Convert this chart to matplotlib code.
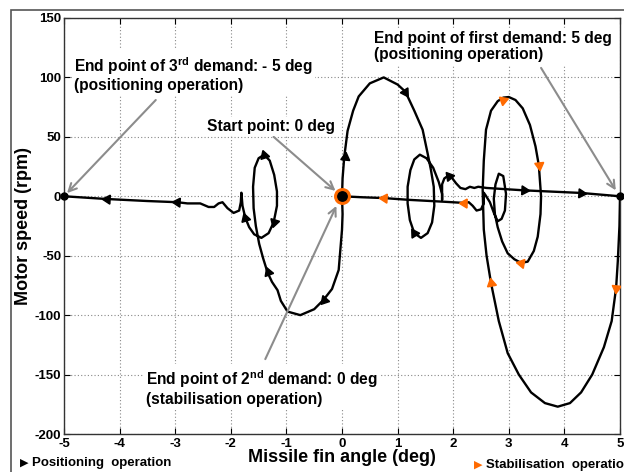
import numpy as np
import matplotlib.pyplot as plt
from matplotlib.patches import Rectangle

plt.rcParams['font.family'] = ['Liberation Sans', 'DejaVu Sans']
plt.rcParams['font.weight'] = 'bold'
plt.rcParams['axes.unicode_minus'] = False
plt.rcParams['mathtext.fontset'] = 'custom'
plt.rcParams['mathtext.rm'] = 'Liberation Sans:bold'
plt.rcParams['mathtext.bf'] = 'Liberation Sans:bold'

ORANGE = '#FF6A00'

# ---------------------------------------------------------------
# Phase trajectories (angle deg, speed rpm)
# ---------------------------------------------------------------
# 1st demand: positioning 0 -> 5 deg
pos1_x = [0, 0.01, 0.04, 0.1, 0.2, 0.3, 0.5, 0.75, 1.0, 1.14, 1.3, 1.45, 1.54,
          1.6, 1.65, 1.66, 1.62, 1.54, 1.42, 1.3, 1.22, 1.18, 1.18, 1.23, 1.3,
          1.4, 1.52, 1.64, 1.74, 1.8, 1.8, 1.8, 1.84, 1.9, 1.97, 2.05, 2.13,
          2.22, 2.3, 2.38, 2.45, 2.6, 3.27, 4.3, 5.0]
pos1_y = [0, 15, 33, 55, 72, 84, 95, 100, 94, 88, 72, 56, 36,
          22, 8, -8, -22, -31, -35, -31, -20, -6, 8, 22, 31,
          35, 32, 24, 12, 2, -3, 10, 15, 17, 16, 11, 7,
          6, 8, 7, 8, 7, 5, 2.8, 0]
pos1_arrows = [(0.06, 33), (1.14, 88), (1.3, -31), (1.93, 17), (3.27, 5), (4.3, 2.8)]

# 2nd demand: stabilisation 5 -> 0 deg
stab_x = [5.0, 4.99, 4.96, 4.93, 4.85, 4.71, 4.5, 4.3, 4.1, 3.88, 3.65, 3.4,
          3.18, 2.98, 2.82, 2.68, 2.6, 2.55, 2.53, 2.55, 2.59, 2.68, 2.8, 2.9,
          3.0, 3.12, 3.25, 3.38, 3.48, 3.54, 3.58, 3.57, 3.52, 3.45, 3.34, 3.22,
          3.1, 2.98, 2.88, 2.8, 2.75, 2.73, 2.76, 2.82, 2.9, 2.95, 2.93, 2.87,
          2.8, 2.74, 2.66, 2.58, 2.55, 2.55, 2.5, 2.42, 2.35, 2.28, 2.2, 1.8,
          1.2, 0.75, 0.35, 0]
stab_y = [0, -25, -55, -77, -105, -127, -150, -165, -174, -177, -174, -165,
          -150, -132, -105, -73, -50, -28, 5, 30, 56, 72, 80, 83,
          83.5, 81, 74, 60, 42, 26, 0, -15, -34, -46, -55, -56,
          -53, -48, -38, -26, -15, -2, 10, 19, 17, 2, -12, -19,
          -21, -15, -5, 1, 3, -6, -11, -12, -8, -5, -5.6, -4.5,
          -3, -1.5, -0.8, 0]
stab_arrows = [(4.93, -77), (2.68, -73), (2.9, 81), (3.54, 26), (3.22, -56),
               (2.2, -5.6), (0.75, -1.4)]

# 3rd demand: positioning 0 -> -5 deg
pos3_x = [0, 0.01, 0.0, -0.06, -0.18, -0.33, -0.5, -0.75, -0.98, -1.1, -1.16,
          -1.26, -1.34, -1.42, -1.49, -1.55, -1.59, -1.6, -1.57, -1.5, -1.4,
          -1.3, -1.22, -1.17, -1.17, -1.23, -1.32, -1.45, -1.58, -1.67, -1.74,
          -1.79, -1.81, -1.82, -1.85, -1.95, -2.06, -2.15, -2.22, -2.3, -2.4,
          -2.55, -2.78, -2.96, -3.5, -4.23, -5.0]
pos3_y = [0, -15, -28, -62, -78, -87, -95, -100, -97, -88, -79,
          -72, -64, -52, -40, -25, -10, 8, 24, 32, 35,
          30, 18, 4, -8, -22, -31, -35, -32, -26, -18,
          -8, 3, -5, -12, -14, -10, -5, -6, -9, -9,
          -6, -6, -5, -4, -2.3, 0]
pos3_arrows = [(-0.33, -87), (-1.34, -64), (-1.74, -18), (-1.4, 35), (-1.23, -22),
               (-2.96, -5), (-4.23, -2.3)]

x_ticks = [-5, -4, -3, -2, -1, 0, 1, 2, 3, 4, 5]
y_ticks = [-200, -150, -100, -50, 0, 50, 100, 150]

fig = plt.figure(figsize=(6.24, 4.72), dpi=100)
ax = fig.add_axes([0.1026, 0.0805, 0.8910, 0.8814])
ax.set_xlim(-5, 5)
ax.set_ylim(-200, 150)
ax.set_xticks(x_ticks)
ax.set_yticks(y_ticks)
ax.tick_params(direction='in', top=True, right=True, length=4, labelsize=9.5)
ax.tick_params(axis='x', pad=3)
ax.tick_params(axis='y', pad=2)
for lab in ax.get_xticklabels() + ax.get_yticklabels():
    lab.set_fontweight('bold')
ax.grid(True, linestyle=(0, (1, 2)), color='#888888', linewidth=0.8)
for s in ax.spines.values():
    s.set_color('#333333')
    s.set_linewidth(1.0)

# outer frame of the figure
fig.patches.append(Rectangle((11 / 624, -0.1), 1.2, 1 - 10 / 472 + 0.1, transform=fig.transFigure,
                             fill=False, edgecolor='#555555', linewidth=1.2))

for xs, ys in [(pos1_x, pos1_y), (stab_x, stab_y), (pos3_x, pos3_y)]:
    ax.plot(xs, ys, color='black', linewidth=1.7, zorder=3)


def draw_arrows(xs, ys, arrows, color):
    pts = ax.transData.transform(np.column_stack([xs, ys]))
    for ax_x, ax_y in arrows:
        p = ax.transData.transform((ax_x, ax_y))
        i = int(np.argmin(np.hypot(pts[:, 0] - p[0], pts[:, 1] - p[1])))
        a = pts[max(i - 1, 0)]
        b = pts[min(i + 1, len(pts) - 1)]
        ang = np.degrees(np.arctan2(b[1] - a[1], b[0] - a[0]))
        ax.plot(ax_x, ax_y, marker=(3, 0, ang - 90), markersize=7.5,
                color=color, markeredgecolor=color, zorder=5)


draw_arrows(pos1_x, pos1_y, pos1_arrows, 'black')
draw_arrows(pos3_x, pos3_y, pos3_arrows, 'black')
draw_arrows(stab_x, stab_y, stab_arrows, ORANGE)

# start / end points
ax.plot([-5, 5], [0, 0], 'o', color='black', markersize=5, clip_on=False, zorder=6)
ax.plot(0, 0, 'o', markerfacecolor='black', markeredgecolor=ORANGE,
        markeredgewidth=2.2, markersize=10, zorder=6)

# annotations
tprops = dict(fontsize=11.2, fontweight='bold', ha='left', va='top', zorder=4,
              linespacing=1.1,
              bbox=dict(boxstyle='square,pad=0.15', facecolor='white', edgecolor='none'))
aprops = dict(arrowstyle='->', color='#8c8c8c', linewidth=1.5,
              shrinkA=0, shrinkB=2, mutation_scale=14)

ax.annotate('', xy=(-4.98, 1), xytext=(-3.35, 81), arrowprops=aprops, zorder=4)
ax.text(-4.82, 119, 'End point of 3$^{\\mathbf{rd}}$ demand: - 5 deg\n(positioning operation)', **tprops)

ax.annotate('', xy=(-0.08, 3), xytext=(-1.23, 50), arrowprops=aprops, zorder=4)
ax.text(-2.43, 65, 'Start point: 0 deg', **tprops)

ax.annotate('', xy=(4.95, 3), xytext=(3.58, 108), arrowprops=aprops, zorder=4)
ax.text(0.57, 139, 'End point of first demand: 5 deg\n(positioning operation)', **tprops)

ax.annotate('', xy=(-0.08, -6), xytext=(-1.38, -137), arrowprops=aprops, zorder=4)
ax.text(-3.53, -145, 'End point of 2$^{\\mathbf{nd}}$ demand: 0 deg\n(stabilisation operation)', **tprops)

ax.set_xlabel('Missile fin angle (deg)', fontsize=13, fontweight='bold')
ax.xaxis.set_label_coords(0.5, -0.037)
ax.set_ylabel('Motor speed (rpm)', fontsize=13, fontweight='bold')
ax.yaxis.set_label_coords(-0.058, 0.5)

# legend-like notes under the axes
fig.text(20 / 624, 1 - 463 / 472, '\u25B6', fontsize=8, color='black', va='center',
         family=['DejaVu Sans'])
fig.text(32 / 624, 1 - 463 / 472, 'Positioning  operation', fontsize=9.5,
         fontweight='bold', va='center')
fig.text(474 / 624, 1 - 465 / 472, '\u25B6', fontsize=8, color=ORANGE, va='center',
         family=['DejaVu Sans'])
fig.text(486 / 624, 1 - 465 / 472, 'Stabilisation  operation', fontsize=9.5,
         fontweight='bold', va='center')

fig.savefig('out.png', dpi=100)
